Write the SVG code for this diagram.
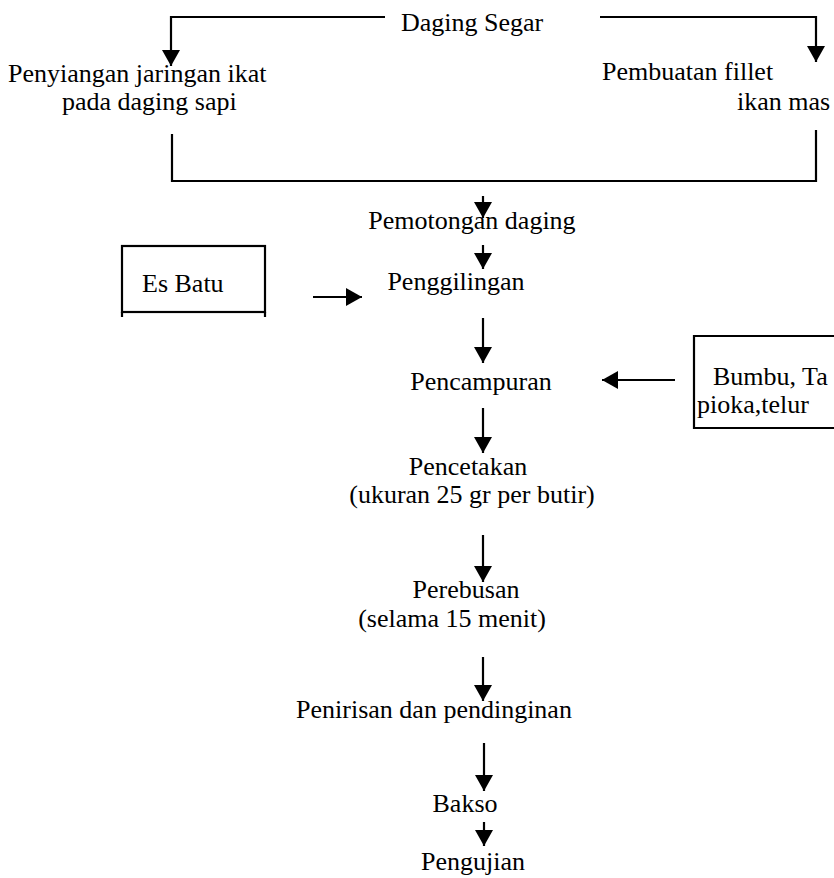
<svg xmlns="http://www.w3.org/2000/svg" width="834" height="878" viewBox="0 0 834 878">
<defs>
<marker id="ah" viewBox="0 0 16 18" refX="16" refY="9" markerWidth="16" markerHeight="18" markerUnits="userSpaceOnUse" orient="auto">
<path d="M0,0 L16,9 L0,18 Z" fill="#000"/>
</marker>
<style>
text{font-family:'Liberation Serif','DejaVu Serif',serif;font-size:26px;fill:#000}
.c{text-anchor:middle}
.ln{fill:none;stroke:#000;stroke-width:2.2}
.ar{fill:none;stroke:#000;stroke-width:2.2;marker-end:url(#ah)}
</style>
</defs>
<rect width="834" height="878" fill="#fff"/>
<g id="connectors">
<path class="ar" d="M385,17 H171 V66"/>
<path class="ar" d="M600,17 H816 V62"/>
<path class="ln" d="M172,134 V181 H816 V130"/>
<path class="ar" d="M483,196 V218"/>
<path class="ar" d="M483,245 V269"/>
<path class="ar" d="M313,297 H362"/>
<path class="ar" d="M483,318 V363"/>
<path class="ar" d="M675,380 H602"/>
<path class="ar" d="M483,408 V453"/>
<path class="ar" d="M483,535 V582"/>
<path class="ar" d="M483,657 V701"/>
<path class="ar" d="M484,743 V791"/>
<path class="ar" d="M484,822 V846"/>
</g>
<g font-family="Liberation Serif, DejaVu Serif, serif">
<g id="daging-segar"><text class="c" x="472" y="31">Daging Segar</text></g>
<g id="penyiangan"><text x="8" y="82">Penyiangan jaringan ikat</text><text x="62" y="110">pada daging sapi</text></g>
<g id="pembuatan"><text x="602" y="80">Pembuatan fillet</text><text x="737" y="110">ikan mas</text></g>
<g id="pemotongan"><text class="c" x="472" y="229">Pemotongan daging</text></g>
<g id="es-batu"><rect class="ln" x="122" y="246" width="143" height="66"/><path class="ln" d="M122,312 V317 M265,312 V317"/><text x="142" y="292">Es Batu</text></g>
<g id="penggilingan"><text class="c" x="456" y="290">Penggilingan</text></g>
<g id="bumbu"><path class="ln" d="M834,336 H694 V428 H834"/><text x="713" y="385">Bumbu, Ta</text><text x="697" y="413">pioka,telur</text></g>
<g id="pencampuran"><text class="c" x="481" y="390">Pencampuran</text></g>
<g id="pencetakan"><text class="c" x="468" y="475">Pencetakan</text><text class="c" x="472" y="503">(ukuran 25 gr per butir)</text></g>
<g id="perebusan"><text class="c" x="466" y="598">Perebusan</text><text class="c" x="452" y="627">(selama 15 menit)</text></g>
<g id="penirisan"><text class="c" x="434" y="718">Penirisan dan pendinginan</text></g>
<g id="bakso"><text class="c" x="465" y="812">Bakso</text></g>
<g id="pengujian"><text class="c" x="473" y="870">Pengujian</text></g>
</g>
</svg>
